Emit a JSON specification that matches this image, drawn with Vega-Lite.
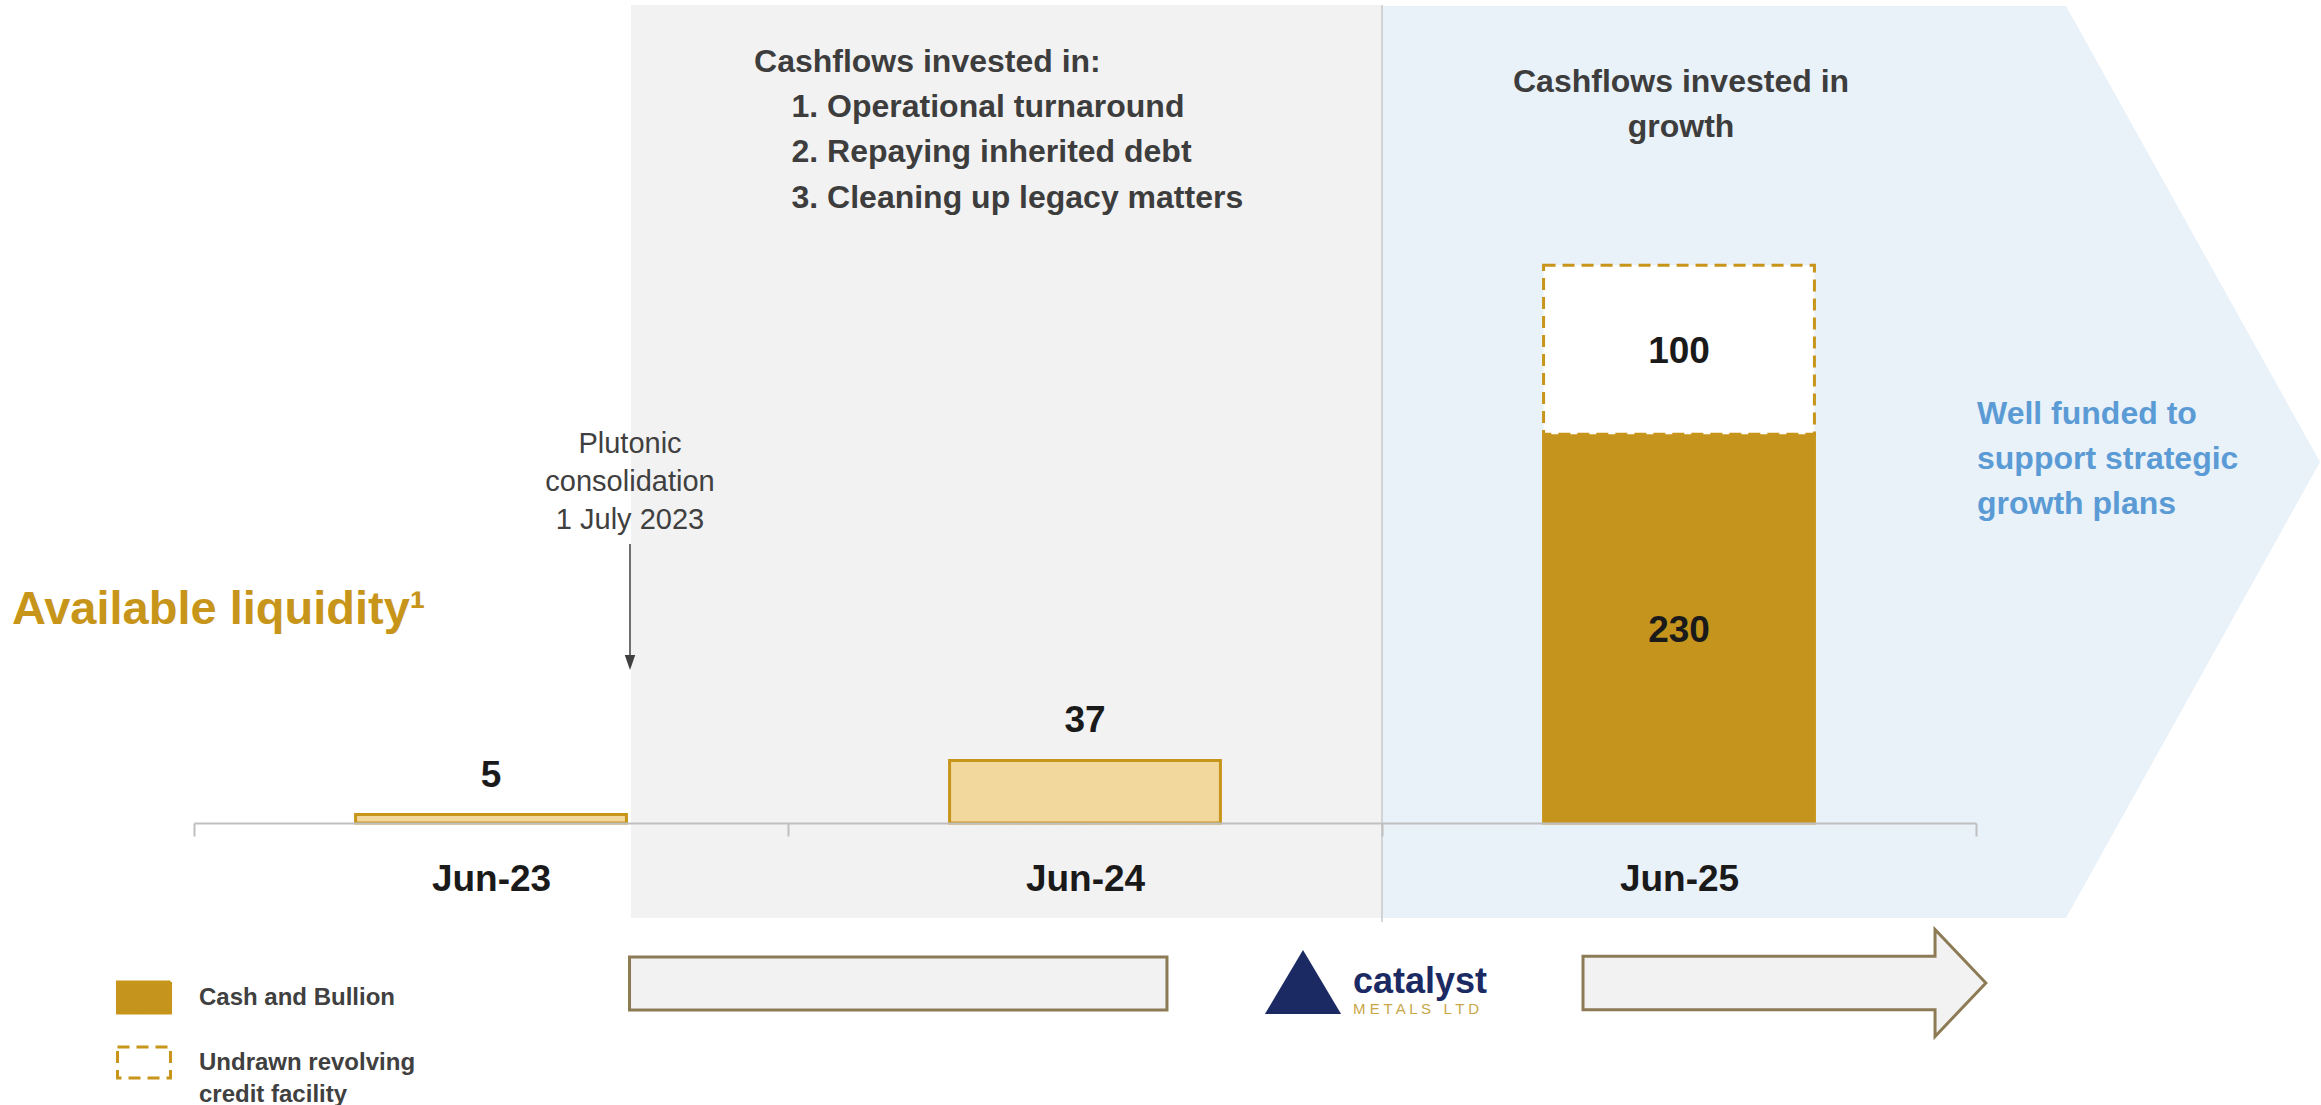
{
  "$schema": "https://vega.github.io/schema/vega-lite/v6.json",
  "width": 1782,
  "height": 823,
  "autosize": {"type": "none"},
  "padding": {"left": 194, "top": 0, "right": 345, "bottom": 282},
  "background": "#FFFFFF",
  "config": {
    "view": {"stroke": null},
    "font": "Liberation Sans",
    "style": {"guide-label": {"lineHeight": 32}},
    "legend": {
      "orient": "none",
      "legendX": -78,
      "legendY": 969.5,
      "padding": 0,
      "symbolType": "M-1,-0.585H1V0.585H-1Z",
      "symbolSize": 2809,
      "symbolStrokeWidth": 3,
      "labelFont": "Liberation Sans",
      "labelFontSize": 24,
      "labelFontWeight": "bold",
      "labelColor": "#404040",
      "labelOffset": 27,
      "labelLimit": 0,
      "rowPadding": 15
    }
  },
  "datasets": {
    "liquidity": [
      {"period": "Jun-23", "component": "Cash and Bullion", "value": 5},
      {"period": "Jun-24", "component": "Cash and Bullion", "value": 37},
      {"period": "Jun-25", "component": "Cash and Bullion", "value": 230},
      {"period": "Jun-25", "component": "Undrawn revolving credit facility", "value": 100}
    ]
  },
  "layer": [
    {
      "data": {"values": [{}]},
      "layer": [
        {
          "mark": {"type": "rect", "fill": "#F2F2F2"},
          "encoding": {
            "x": {"datum": 0.7357, "type": "quantitative", "scale": {"domain": [0, 3], "nice": false, "zero": false}, "axis": null},
            "x2": {"datum": 2.0},
            "y": {"datum": 484, "type": "quantitative", "scale": {"domain": [0, 486.98], "nice": false, "zero": false}, "axis": null},
            "y2": {"datum": -56.2}
          }
        },
        {
          "mark": {"type": "point", "shape": "M0,-1H1.5L2.057,0L1.5,1H0Z", "size": 831744, "filled": true, "color": "#E9F1F9", "opacity": 1, "strokeWidth": 0},
          "encoding": {
            "x": {"datum": 2.0, "type": "quantitative", "scale": {"domain": [0, 3], "nice": false, "zero": false}, "axis": null},
            "y": {"datum": 213.6, "type": "quantitative", "scale": {"domain": [0, 486.98], "nice": false, "zero": false}, "axis": null}
          }
        },
        {
          "mark": {"type": "rule", "color": "#C9C9C9", "strokeWidth": 1.5},
          "encoding": {
            "x": {"datum": 2.0, "type": "quantitative", "scale": {"domain": [0, 3], "nice": false, "zero": false}, "axis": null},
            "y": {"datum": 484, "type": "quantitative", "scale": {"domain": [0, 486.98], "nice": false, "zero": false}, "axis": null},
            "y2": {"datum": -58.6}
          }
        },
        {
          "mark": {"type": "rect", "fill": "#F2F2F2", "stroke": "#8C7B55", "strokeWidth": 3},
          "encoding": {
            "x": {"datum": 0.7332, "type": "quantitative", "scale": {"domain": [0, 3], "nice": false, "zero": false}, "axis": null},
            "x2": {"datum": 1.638},
            "y": {"datum": -79.3, "type": "quantitative", "scale": {"domain": [0, 486.98], "nice": false, "zero": false}, "axis": null},
            "y2": {"datum": -110.65}
          }
        },
        {
          "mark": {"type": "point", "shape": "M0,-0.5H6.58V-1L7.53,0L6.58,1V0.5H0Z", "size": 11449, "filled": true, "fill": "#F2F2F2", "stroke": "#8C7B55", "strokeWidth": 3, "opacity": 1},
          "encoding": {
            "x": {"datum": 2.3384, "type": "quantitative", "scale": {"domain": [0, 3], "nice": false, "zero": false}, "axis": null},
            "y": {"datum": -94.67, "type": "quantitative", "scale": {"domain": [0, 486.98], "nice": false, "zero": false}, "axis": null}
          }
        },
        {
          "mark": {"type": "rule", "color": "#404040", "strokeWidth": 1.5},
          "encoding": {
            "x": {"datum": 0.734, "type": "quantitative", "scale": {"domain": [0, 3], "nice": false, "zero": false}, "axis": null},
            "y": {"datum": 165.1, "type": "quantitative", "scale": {"domain": [0, 486.98], "nice": false, "zero": false}, "axis": null},
            "y2": {"datum": 97.6}
          }
        },
        {
          "mark": {"type": "point", "shape": "M-0.7,-1H0.7L0,1Z", "size": 225, "filled": true, "color": "#404040", "opacity": 1, "strokeWidth": 0},
          "encoding": {
            "x": {"datum": 0.734, "type": "quantitative", "scale": {"domain": [0, 3], "nice": false, "zero": false}, "axis": null},
            "y": {"datum": 94.97, "type": "quantitative", "scale": {"domain": [0, 486.98], "nice": false, "zero": false}, "axis": null}
          }
        },
        {
          "mark": {"type": "text", "text": ["Plutonic", "consolidation", "1 July 2023"], "lineHeight": 37.8, "align": "center", "baseline": "alphabetic", "fontSize": 29, "color": "#404040"},
          "encoding": {
            "x": {"datum": 0.734, "type": "quantitative", "scale": {"domain": [0, 3], "nice": false, "zero": false}, "axis": null},
            "y": {"datum": 218.9, "type": "quantitative", "scale": {"domain": [0, 486.98], "nice": false, "zero": false}, "axis": null}
          }
        },
        {
          "mark": {"type": "text", "text": "Available liquidity¹", "align": "left", "baseline": "alphabetic", "fontSize": 47, "fontWeight": "bold", "color": "#C8951B"},
          "encoding": {
            "x": {"datum": -0.3064, "type": "quantitative", "scale": {"domain": [0, 3], "nice": false, "zero": false}, "axis": null},
            "y": {"datum": 117.75, "type": "quantitative", "scale": {"domain": [0, 486.98], "nice": false, "zero": false}, "axis": null}
          }
        },
        {
          "mark": {"type": "text", "text": "Cashflows invested in:", "align": "left", "baseline": "alphabetic", "fontSize": 32, "fontWeight": "bold", "color": "#3D3D3D"},
          "encoding": {
            "x": {"datum": 0.9428, "type": "quantitative", "scale": {"domain": [0, 3], "nice": false, "zero": false}, "axis": null},
            "y": {"datum": 444.6, "type": "quantitative", "scale": {"domain": [0, 486.98], "nice": false, "zero": false}, "axis": null}
          }
        },
        {
          "mark": {"type": "text", "text": ["1. Operational turnaround", "2. Repaying inherited debt", "3. Cleaning up legacy matters"], "lineHeight": 45.5, "align": "left", "baseline": "alphabetic", "fontSize": 32, "fontWeight": "bold", "color": "#3D3D3D"},
          "encoding": {
            "x": {"datum": 1.0059, "type": "quantitative", "scale": {"domain": [0, 3], "nice": false, "zero": false}, "axis": null},
            "y": {"datum": 417.9, "type": "quantitative", "scale": {"domain": [0, 486.98], "nice": false, "zero": false}, "axis": null}
          }
        },
        {
          "mark": {"type": "text", "text": ["Cashflows invested in", "growth"], "lineHeight": 45, "align": "center", "baseline": "alphabetic", "fontSize": 32, "fontWeight": "bold", "color": "#3D3D3D"},
          "encoding": {
            "x": {"datum": 2.5034, "type": "quantitative", "scale": {"domain": [0, 3], "nice": false, "zero": false}, "axis": null},
            "y": {"datum": 432.5, "type": "quantitative", "scale": {"domain": [0, 486.98], "nice": false, "zero": false}, "axis": null}
          }
        },
        {
          "mark": {"type": "text", "text": ["Well funded to", "support strategic", "growth plans"], "lineHeight": 45, "align": "left", "baseline": "alphabetic", "fontSize": 32, "fontWeight": "bold", "color": "#5B9BD5"},
          "encoding": {
            "x": {"datum": 3.0017, "type": "quantitative", "scale": {"domain": [0, 3], "nice": false, "zero": false}, "axis": null},
            "y": {"datum": 236.1, "type": "quantitative", "scale": {"domain": [0, 486.98], "nice": false, "zero": false}, "axis": null}
          }
        },
        {
          "mark": {"type": "point", "shape": "M0,-1L1.19,1H-1.19Z", "size": 4096, "filled": true, "color": "#1B2A63", "opacity": 1, "strokeWidth": 0},
          "encoding": {
            "x": {"datum": 1.867, "type": "quantitative", "scale": {"domain": [0, 3], "nice": false, "zero": false}, "axis": null},
            "y": {"datum": -94.1, "type": "quantitative", "scale": {"domain": [0, 486.98], "nice": false, "zero": false}, "axis": null}
          }
        },
        {
          "mark": {"type": "text", "text": "catalyst", "align": "left", "baseline": "alphabetic", "fontSize": 36, "fontWeight": "bold", "color": "#1B2A63"},
          "encoding": {
            "x": {"datum": 1.951, "type": "quantitative", "scale": {"domain": [0, 3], "nice": false, "zero": false}, "axis": null},
            "y": {"datum": -100.6, "type": "quantitative", "scale": {"domain": [0, 486.98], "nice": false, "zero": false}, "axis": null}
          }
        },
        {
          "mark": {"type": "text", "text": "M E T A L S\u00a0\u00a0\u00a0L T D", "align": "left", "baseline": "alphabetic", "fontSize": 15, "color": "#C9A646"},
          "encoding": {
            "x": {"datum": 1.9512, "type": "quantitative", "scale": {"domain": [0, 3], "nice": false, "zero": false}, "axis": null},
            "y": {"datum": -113.0, "type": "quantitative", "scale": {"domain": [0, 486.98], "nice": false, "zero": false}, "axis": null}
          }
        }
      ]
    },
    {
      "data": {"name": "liquidity"},
      "layer": [
        {
          "mark": {"type": "bar", "strokeWidth": 3, "width": {"band": 0.456}},
          "encoding": {
            "x": {
              "field": "period", "type": "nominal",
              "scale": {"domain": ["Jun-23", "Jun-24", "Jun-25"], "paddingInner": 0, "paddingOuter": 0},
              "axis": {
                "title": null, "labelAngle": 0, "domainColor": "#BFBFBF", "domainWidth": 2,
                "tickColor": "#BFBFBF", "tickWidth": 2, "tickSize": 13, "tickBand": "extent",
                "labelFont": "Liberation Sans", "labelFontSize": 37, "labelFontWeight": "bold",
                "labelColor": "#1A1A1A", "labelPadding": 54, "labelBaseline": "alphabetic", "zindex": 1
              }
            },
            "y": {"field": "value", "type": "quantitative", "stack": "zero", "scale": {"domain": [0, 486.98], "nice": false, "zero": false}, "axis": null},
            "order": {"field": "component", "sort": "ascending"},
            "fill": {
              "condition": {"test": "datum.period !== 'Jun-25'", "value": "#F2D89C"},
              "field": "component", "type": "nominal",
              "scale": {"domain": ["Cash and Bullion", "Undrawn revolving credit facility"], "range": ["#C5941C", "#FFFFFF"]},
              "legend": {"title": null, "labelExpr": "datum.label == 'Undrawn revolving credit facility' ? ['Undrawn revolving', 'credit facility'] : datum.label"}
            },
            "stroke": {
              "field": "component", "type": "nominal",
              "scale": {"domain": ["Cash and Bullion", "Undrawn revolving credit facility"], "range": ["#C8951B", "#C8951B"]},
              "legend": {"title": null, "labelExpr": "datum.label == 'Undrawn revolving credit facility' ? ['Undrawn revolving', 'credit facility'] : datum.label"}
            },
            "strokeDash": {
              "field": "component", "type": "nominal",
              "scale": {"domain": ["Cash and Bullion", "Undrawn revolving credit facility"], "range": [[1, 0], [12, 7]]},
              "legend": {"title": null, "labelExpr": "datum.label == 'Undrawn revolving credit facility' ? ['Undrawn revolving', 'credit facility'] : datum.label"}
            }
          }
        },
        {
          "transform": [{"filter": "datum.period !== 'Jun-25'"}],
          "mark": {"type": "text", "baseline": "alphabetic", "dy": -28, "fontSize": 37, "fontWeight": "bold", "color": "#1A1A1A"},
          "encoding": {
            "x": {"field": "period", "type": "nominal", "scale": {"domain": ["Jun-23", "Jun-24", "Jun-25"], "paddingInner": 0, "paddingOuter": 0}},
            "y": {"field": "value", "type": "quantitative", "scale": {"domain": [0, 486.98], "nice": false, "zero": false}},
            "text": {"field": "value", "type": "quantitative"}
          }
        },
        {
          "transform": [{"filter": "datum.period === 'Jun-25'"}],
          "mark": {"type": "text", "baseline": "middle", "dy": 2, "fontSize": 37, "fontWeight": "bold", "color": "#1A1A1A"},
          "encoding": {
            "x": {"field": "period", "type": "nominal", "scale": {"domain": ["Jun-23", "Jun-24", "Jun-25"], "paddingInner": 0, "paddingOuter": 0}},
            "y": {"field": "value", "type": "quantitative", "stack": "zero", "bandPosition": 0.5, "scale": {"domain": [0, 486.98], "nice": false, "zero": false}},
            "order": {"field": "component", "sort": "ascending"},
            "text": {"field": "value", "type": "quantitative"}
          }
        }
      ]
    }
  ],
  "resolve": {"scale": {"x": "independent"}}
}
